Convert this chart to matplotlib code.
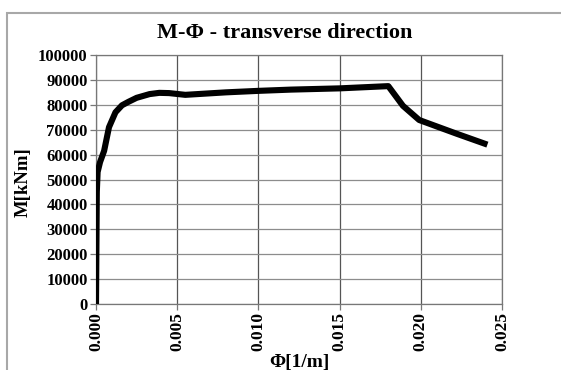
import matplotlib
matplotlib.use("Agg")
import matplotlib.pyplot as plt
from matplotlib.patches import Rectangle

# curvature [1/m] and moment [kNm]
phi = [0.0, 0.00005, 0.0001, 0.00025, 0.0005, 0.0008, 0.0012, 0.0016, 0.002,
       0.0025, 0.0033, 0.0039, 0.0045, 0.0055, 0.0065, 0.008, 0.010, 0.012,
       0.015, 0.018, 0.0189, 0.0199, 0.0222, 0.0241]
moment = [0, 45000, 53000, 57000, 61500, 71000, 77000, 79800, 81200,
          82800, 84300, 84800, 84700, 84000, 84400, 85000, 85600, 86100,
          86600, 87500, 79600, 73900, 68400, 64000]

x_ticks = [0.000, 0.005, 0.010, 0.015, 0.020, 0.025]
y_ticks = list(range(0, 100001, 10000))

plt.rcParams['font.family'] = ['Liberation Serif', 'DejaVu Serif']
plt.rcParams['font.weight'] = 'bold'

W, H = 561, 370
fig = plt.figure(figsize=(W / 100, H / 100), dpi=100)
ax = fig.add_axes([96 / W, 1 - 304 / H, (502 - 96) / W, (304 - 55) / H])

ax.plot(phi, moment, color='black', lw=4.4, solid_joinstyle='round',
        solid_capstyle='butt', zorder=3)

ax.set_xlim(0, 0.025)
ax.set_ylim(0, 100000)
ax.set_xticks(x_ticks)
ax.set_xticklabels([f'{t:.3f}' for t in x_ticks], rotation=90,
                   fontsize=12.5, fontweight='bold')
ax.set_yticks(y_ticks)
ax.set_yticklabels([str(t) for t in y_ticks], fontsize=12, fontweight='bold')

ax.grid(axis='y', color='#8c8c8c', lw=0.9)
ax.grid(axis='x', color='#555555', lw=0.9)
for s in ax.spines.values():
    s.set_color('#777777')
    s.set_linewidth(0.9)
ax.tick_params(axis='both', direction='out', length=4, color='#777777',
               width=0.9, pad=2)

# outer chart area border (cropped)
fig.patches.append(Rectangle((7 / W, -0.2), 1.3, 1 - 13 / H + 0.2,
                             transform=fig.transFigure, fill=False,
                             edgecolor='#a8a8a8', lw=1.5))

fig.text(285 / W, 1 - 33 / H, 'M-Φ - transverse direction', ha='center',
         va='center', fontsize=16, fontweight='bold')
fig.text(23 / W, 1 - 182 / H, 'M[kNm]', rotation=90, ha='center',
         va='center', fontsize=13.5, fontweight='bold')
fig.text(299 / W, 1 - 354 / H, 'Φ[1/m]', ha='center', va='top',
         fontsize=14, fontweight='bold')

fig.savefig('out.png', dpi=100)
